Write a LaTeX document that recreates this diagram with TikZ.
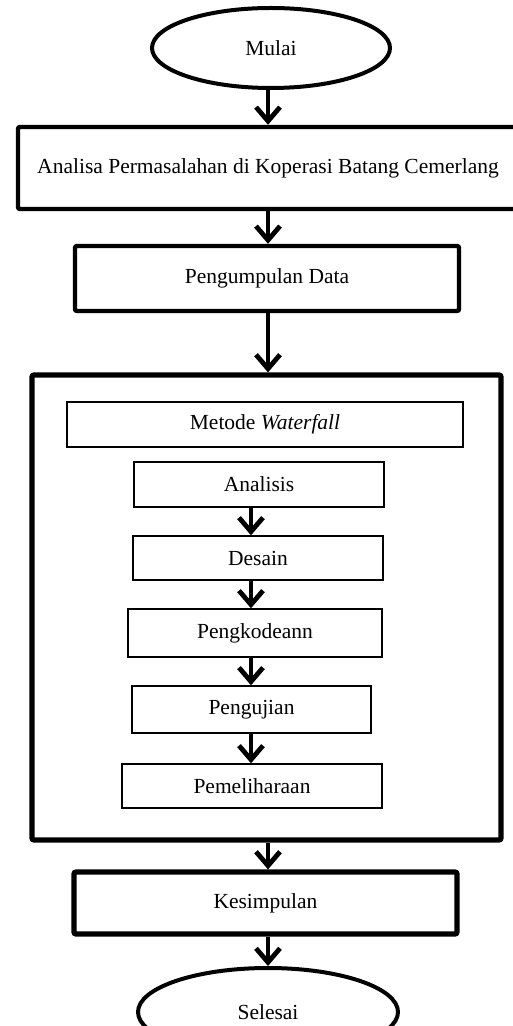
\documentclass[tikz,border=0pt]{standalone}
\usepackage{fontspec}
\setmainfont{Liberation Serif}
\usetikzlibrary{arrows.meta,shapes.geometric}
\tikzstyle{terminal}=[draw=black, ellipse, line width=2pt, inner sep=0pt]
\tikzstyle{thickbox}=[draw=black, rectangle, line width=2.2pt, rounded corners=1pt, inner sep=0pt]
\tikzstyle{thinbox}=[draw=black, rectangle, line width=0.7pt, inner sep=0pt]
\tikzstyle{flowarrow}=[draw=black, line width=2.4pt, >={Straight Barb[length=7pt, width=12pt]}]

\begin{document}
\begin{tikzpicture}[x=0.5pt, y=-0.5pt, font=\fontsize{10.75}{13}\selectfont]
	\clip (0,0) rectangle (513,1026);
	\coordinate (outer) at (268,0);
	\coordinate (inner) at (251,0);
	\begin{scope}
		\node (mulai) at (271,48)[terminal, minimum width=119pt, minimum height=40pt] {Mulai};
		\node (analisa) at (268,168)[thickbox, minimum width=250pt, minimum height=41pt] {Analisa Permasalahan di Koperasi Batang Cemerlang};
		\node (pengumpulan) at (267,278.5)[thickbox, minimum width=192pt, minimum height=32.5pt] {Pengumpulan Data};
		\node (waterfall) at (266.5,607.5)[thickbox, line width=2.6pt, minimum width=234.5pt, minimum height=232.5pt] {};
		\node (metode) at (265,424.5)[thinbox, minimum width=198pt, minimum height=22.5pt] {Metode \textit{Waterfall}};
		\node (analisis) at (259,484.5)[thinbox, minimum width=125pt, minimum height=22.5pt] {Analisis};
		\node (desain) at (258,558)[thinbox, minimum width=125pt, minimum height=22pt] {Desain};
		\node (pengkodean) at (255,633)[thinbox, minimum width=127pt, minimum height=24pt] {Pengkodeann};
		\node (pengujian) at (251.5,709.5)[thinbox, minimum width=119.5pt, minimum height=23.5pt] {Pengujian};
		\node (pemeliharaan) at (252,786)[thinbox, minimum width=130pt, minimum height=22pt] {Pemeliharaan};
		\node (kesimpulan) at (265.5,903)[thickbox, line width=2.6pt, minimum width=191.5pt, minimum height=31pt] {Kesimpulan};
		\node (selesai) at (268,1012)[terminal, minimum width=130pt, minimum height=44pt] {Selesai};
	\end{scope}
	\begin{scope}
		\path [->] (mulai.south -| outer) edge[flowarrow] (analisa.north -| outer);
		\path [->] (analisa.south -| outer) edge[flowarrow] (pengumpulan.north -| outer);
		\path [->] (pengumpulan.south -| outer) edge[flowarrow] (waterfall.north -| outer);

		\path [->] (analisis.south -| inner) edge[flowarrow] (desain.north -| inner);
		\path [->] (desain.south -| inner) edge[flowarrow] (pengkodean.north -| inner);
		\path [->] (pengkodean.south -| inner) edge[flowarrow] (pengujian.north -| inner);
		\path [->] (pengujian.south -| inner) edge[flowarrow] (pemeliharaan.north -| inner);

		\path [->] (waterfall.south -| outer) edge[flowarrow] (kesimpulan.north -| outer);
		\path [->] (kesimpulan.south -| outer) edge[flowarrow] (selesai.north -| outer);
	\end{scope}
\end{tikzpicture}
\end{document}
